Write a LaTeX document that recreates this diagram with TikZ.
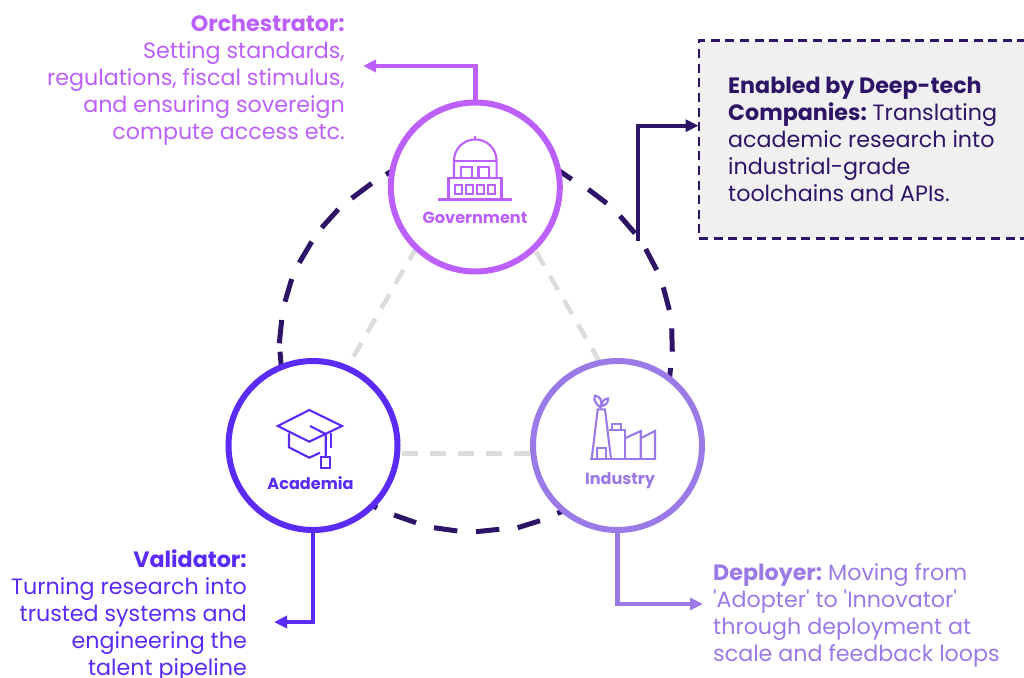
\documentclass[tikz,border=0pt]{standalone}
\usepackage{fontspec}
\setmainfont{Poppins}[Ligatures=TeXOff]
\usetikzlibrary{arrows.meta,calc}
\definecolor{gov}{HTML}{BC5FFB}
\definecolor{aca}{HTML}{5B2BF5}
\definecolor{ind}{HTML}{9B79E6}
\definecolor{navy}{HTML}{2E1466}
\definecolor{boxbg}{HTML}{F0F0F1}
\definecolor{tri}{HTML}{DCDCDC}
\tikzset{
  hub/.style={circle,draw,line width=6pt,fill=white,minimum size=169pt,inner sep=0pt,outer sep=0pt},
  link/.style={line width=4.4pt,-{Triangle[length=13pt,width=12pt]}},
  icon/.style={line width=2.1pt,line join=miter},
  ringdash/.style={navy,line width=5pt},
  tridash/.style={tri,line width=4.6pt,dash pattern=on 16pt off 12pt},
  desc/.style={align=right,inner sep=0pt,font=\fontsize{22.2}{27}\selectfont},
  descl/.style={align=left,inner sep=0pt,font=\fontsize{22.2}{27}\selectfont,anchor=north west},
  hublabel/.style={inner sep=0pt,font=\bfseries\fontsize{16.1}{19}\selectfont},
}
\begin{document}
\begin{tikzpicture}[x=1pt,y=-1pt]
\useasboundingbox (0,0) rectangle (1024,677);
% big dashed ring
\foreach \xa/\ya/\xb/\yb in {
  392/171/386/174.5, 371.7/183.3/351.7/198.3, 338.3/209.3/321.7/227.7,
  311.7/241.7/299.3/262.7, 291.7/279/285/301.7, 281.7/320/279.3/343.3, 280/351.7/282/375,
  558/170/571.7/179.3, 588.3/189.3/606.7/203.3, 620/216/635/233.3,
  645.7/249/656.7/270, 663.3/287.3/669.3/310, 671.7/328.3/672.3/351.7, 670.5/368/669/385,
  372/505/377/508, 394/515/416/522.7, 434/527.7/457.3/531, 476/531.7/499.3/529.3,
  517.7/527.7/540/520.7, 557.3/513.3/566/510}{
  \draw[ringdash] (\xa,\ya) -- (\xb,\yb);
}
% triangle
\coordinate (tt) at (475,146);
\coordinate (tl) at (297.5,453.5);
\coordinate (tr) at (652.5,453.5);
\draw[tridash,dash phase=24.7pt] (tt) -- (tl);
\draw[tridash,dash phase=18pt] (tt) -- (tr);
\draw[tridash,dash phase=7.8pt] (tl) -- (tr);
% hubs
\node[hub,draw=gov] (gov) at (475.3,187) {};
\node[hub,draw=aca] (aca) at (313,445.5) {};
\node[hub,draw=ind] (ind) at (617.5,445.5) {};
\node[hublabel,text=gov] (govl) at (475,218) {Government};
\node[hublabel,text=aca] (acal) at (310.5,483) {Academia};
\node[hublabel,text=ind] (indl) at (620,481) {Industry};
% government icon
\begin{scope}[icon,draw=gov]
\draw (438,199.5) -- (511.7,199.5);
\draw (448.5,199.5) -- (448.5,177.7) -- (501.5,177.7) -- (501.5,199.5);
\draw (454,177.7) -- (454,160.7) arc[start angle=180,end angle=360,radius=21.3] -- (496.6,177.7);
\draw (454,160.7) -- (496.6,160.7);
\draw (475.3,136) -- (475.3,140);
\draw (461,177.7) -- (461,166.7) -- (472,166.7) -- (472,177.7);
\draw (478.5,177.7) -- (478.5,166.7) -- (489.3,166.7) -- (489.3,177.7);
\foreach \x in {455,465.7,476.7,487.7}{\draw (\x,185) rectangle ++(7.4,9);}
\end{scope}
% academia icon
\begin{scope}[icon,draw=aca]
\draw (277.7,426) -- (309.3,410) -- (342,426) -- (309.3,441.7) -- cycle;
\draw (289,433.3) -- (289,447.3) -- (309.3,457.7) -- (320,452.7);
\draw (331,433.3) -- (331,448);
\draw (310,426) -- (325.7,434) -- (325.7,457.3);
\draw (321,457.3) rectangle (330,468);
\end{scope}
% industry icon
\begin{scope}[icon,draw=ind]
\draw (590,459) -- (655.7,459);
\draw (591.7,459) -- (597.7,409.3) -- (605,409.3) -- (611,459);
\draw (596.7,459) -- (596.7,448.3) -- (606,448.3) -- (606,459);
\draw (608.5,430) -- (625,430) -- (625,459);
\draw (612.3,430) -- (612.3,424) -- (621,424) -- (621,430);
\draw (625,438.3) -- (640.7,431) -- (640.7,459);
\draw (640.7,438.3) -- (655,431) -- (655,459);
\draw (600.5,407.5) .. controls (596,404) and (593,400) .. (595,395.7) .. controls (600,396) and (603,401) .. cycle;
\draw (602,406) .. controls (602,401) and (604,399) .. (608,398.5) .. controls (608,403) and (606,405) .. cycle;
\end{scope}
% descriptions
\node[desc,text=gov,anchor=north east] (orch) at (345,14.5) {{\bfseries Orchestrator:}\\Setting standards,\\regulations, fiscal stimulus,\\and ensuring sovereign\\compute access etc.};
\node[desc,text=aca,anchor=north east] (vali) at (247,550) {{\bfseries Validator:}\\Turning research into\\trusted systems and\\engineering the\\talent pipeline};
\node[descl,text=ind] (depl) at (713,563) {{\bfseries Deployer:}\kern-2pt{} Moving from\\'Adopter' to 'Innovator'\\through deployment at\\scale and feedback loops};
% box
\node[draw=navy,fill=boxbg,line width=2.6pt,dash pattern=on 9pt off 5.6pt,anchor=north west,minimum width=335pt,minimum height=197.6pt,inner sep=0pt,outer sep=0pt] (box) at (699,40.7) {};
\node[descl,text=navy] (boxt) at (728,76.5) {{\bfseries Enabled by Deep-tech}\\{\bfseries Companies:}\kern-2pt{} Translating\\academic research into\\industrial-grade\\toolchains and APIs.};
% connectors
\coordinate (gend) at (363,66);
\coordinate (aend) at (274,622);
\coordinate (iend) at (703,604);
\coordinate (bstart) at (637.7,241);
\coordinate (bin) at (698.5,125.7);
\draw[link,gov] (gov.north) |- (gend);
\draw[link,aca] (aca.south) |- (aend);
\draw[link,ind] (ind.south) |- (iend);
\draw[link,navy] (bstart) |- (bin);
\end{tikzpicture}
\end{document}
